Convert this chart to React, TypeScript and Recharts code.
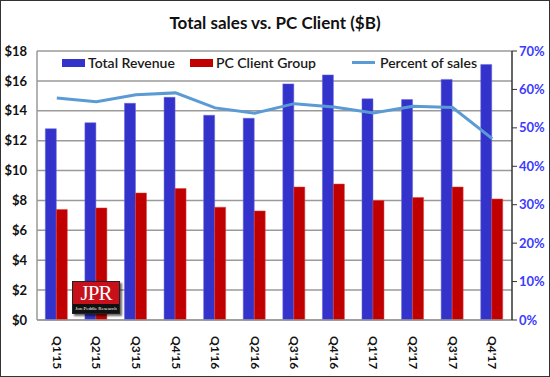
import React from 'react';
import {
  ComposedChart, Bar, Line, XAxis, YAxis, CartesianGrid,
} from 'recharts';

const quarters = ["Q1'15", "Q2'15", "Q3'15", "Q4'15", "Q1'16", "Q2'16", "Q3'16", "Q4'16", "Q1'17", "Q2'17", "Q3'17", "Q4'17"];
const totalRevenue = [12.8, 13.2, 14.5, 14.9, 13.7, 13.5, 15.8, 16.4, 14.8, 14.75, 16.1, 17.1];
const pcClient = [7.4, 7.5, 8.5, 8.8, 7.55, 7.3, 8.9, 9.1, 8.0, 8.2, 8.9, 8.1];
const percentOfSales = [57.8, 56.8, 58.6, 59.1, 55.2, 53.8, 56.3, 55.4, 53.9, 55.6, 55.3, 47.2];

const leftTicks = [0, 2, 4, 6, 8, 10, 12, 14, 16, 18];
const rightTicks = [0, 10, 20, 30, 40, 50, 60, 70];

const data = quarters.map((q, i) => ({
  quarter: q,
  total: totalRevenue[i],
  pc: pcClient[i],
  pct: percentOfSales[i],
}));

const FONT = 'Lato, "Open Sans", sans-serif';

// rotated quarter labels, reading top to bottom
const QuarterTick = (props: any) => {
  const { x, y, payload } = props;
  return (
    <text
      x={x}
      y={y}
      transform={`rotate(90, ${x}, ${y})`}
      dx={8}
      dy={4}
      textAnchor="start"
      fontSize={12}
      fontWeight={700}
      fill="#111"
      fontFamily={FONT}
    >
      {payload.value}
    </text>
  );
};

// legend drawn as an overlay so it doesn't push the plot area down
const LegendBox = () => (
  <div style={{
    position: 'absolute', left: 62, top: 54, display: 'flex', alignItems: 'center',
    fontFamily: FONT, fontSize: 14, fontWeight: 600, color: '#1a1a1a', zIndex: 1,
  }}>
    <span style={{ display: 'inline-block', width: 23, height: 8, background: '#3333CC', marginRight: 3 }} />
    <span style={{ marginRight: 15 }}>Total Revenue</span>
    <span style={{ display: 'inline-block', width: 23, height: 8, background: '#C00000', marginRight: 3 }} />
    <span style={{ marginRight: 36 }}>PC Client Group</span>
    <span style={{ display: 'inline-block', width: 23, height: 3, background: '#5B9BD5', marginRight: 5 }} />
    <span>Percent of sales</span>
  </div>
);

const App = () => {
  return (
    <div style={{ position: 'absolute', left: 0, top: 0, width: 550, height: 377, background: '#fff' }}>
      <div style={{ position: 'absolute', inset: 0, border: '1px solid #333', boxSizing: 'border-box', pointerEvents: 'none', zIndex: 2 }} />
      <div style={{ position: 'absolute', top: 12, width: 550, textAlign: 'center', fontFamily: FONT, fontWeight: 700, fontSize: 17, color: '#111' }}>
        Total sales vs. PC Client ($B)
      </div>
      <ComposedChart
        width={550}
        height={377}
        data={data}
        margin={{ top: 51, right: 0, bottom: 7, left: 0 }}
        barCategoryGap="21%"
        barGap={0}
      >
        <CartesianGrid vertical={false} stroke="#9a9a9a" strokeWidth={1.5} yAxisId="left" />
        <XAxis
          dataKey="quarter"
          interval={0}
          height={50}
          tick={<QuarterTick />}
          tickLine={false}
          axisLine={{ stroke: '#9a9a9a', strokeWidth: 1.5 }}
        />
        <YAxis
          yAxisId="left"
          width={37}
          domain={[0, 18]}
          ticks={leftTicks}
          tickFormatter={(v: number) => `$${v}`}
          tick={{ fontSize: 13, fontWeight: 700, fill: '#111', fontFamily: FONT }}
          tickLine={false}
          tickMargin={4}
          axisLine={{ stroke: '#9a9a9a', strokeWidth: 1.5 }}
        />
        <YAxis
          yAxisId="right"
          orientation="right"
          width={38}
          domain={[0, 70]}
          ticks={rightTicks}
          tickFormatter={(v: number) => `${v}%`}
          tick={{ fontSize: 13, fontWeight: 700, fill: '#3b3bff', fontFamily: FONT }}
          tickLine={{ stroke: '#333' }}
          tickSize={5}
          axisLine={{ stroke: '#333', strokeWidth: 1.5 }}
        />
        <Bar yAxisId="left" dataKey="total" name="Total Revenue" fill="#3333CC" stroke="#6666dd" strokeWidth={0.5} isAnimationActive={false} />
        <Bar yAxisId="left" dataKey="pc" name="PC Client Group" fill="#C00000" stroke="#dd4444" strokeWidth={0.5} isAnimationActive={false} />
        <Line yAxisId="right" dataKey="pct" name="Percent of sales" type="linear" stroke="#5B9BD5" strokeWidth={3} dot={false} isAnimationActive={false} />
      </ComposedChart>
      <LegendBox />
      <div
        style={{
          position: 'absolute', left: 72, top: 281, width: 46, height: 31,
          background: '#C8101A', border: '1px solid #222', boxShadow: '2px 2px 2px rgba(0,0,0,0.6)',
          fontFamily: '"Liberation Serif", serif', color: '#fff', textAlign: 'center', overflow: 'hidden',
        }}
      >
        <div style={{ fontSize: 21, lineHeight: '22px', letterSpacing: -1 }}>JPR</div>
        <div style={{ background: '#111', fontSize: 5, lineHeight: '9px', whiteSpace: 'nowrap' }}>Jon Peddie Research</div>
      </div>
    </div>
  );
};

export default App;
